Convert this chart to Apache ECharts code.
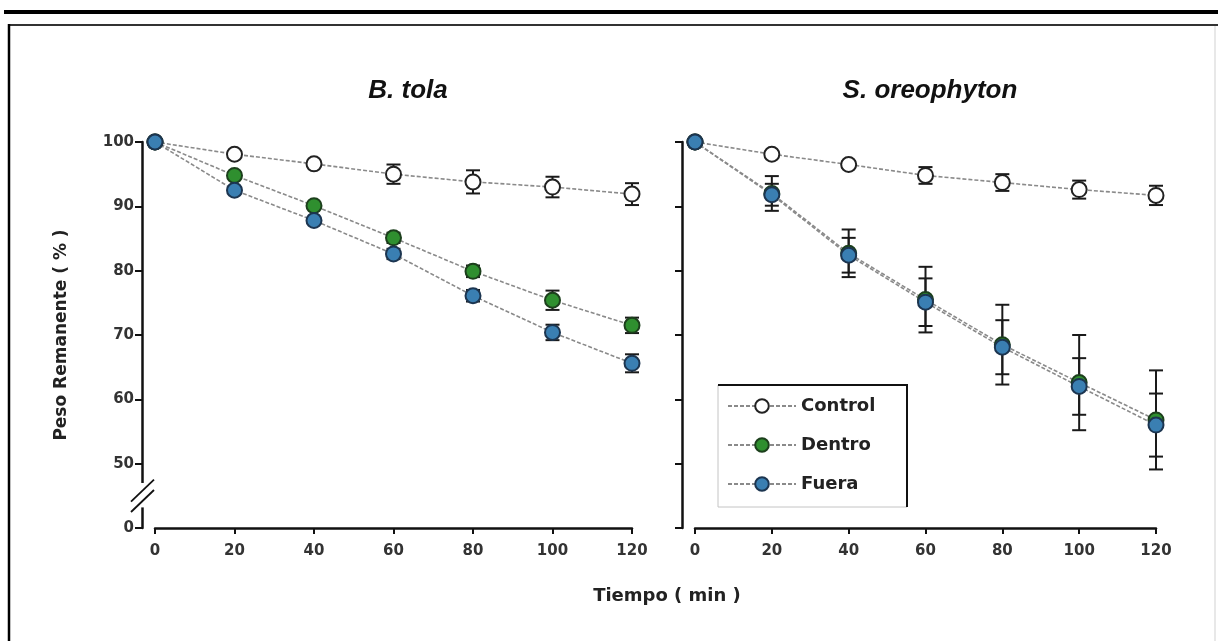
<!DOCTYPE html>
<html>
<head>
<meta charset="utf-8">
<script src="https://cdn.jsdelivr.net/npm/echarts@6/dist/echarts.min.js"></script>
<style>
html,body{margin:0;padding:0;background:#fff;}
#c{width:1218px;height:641px;}
</style>
</head>
<body>
<div id="c"></div>
<script>
// ---- data ----
const times = [0, 20, 40, 60, 80, 100, 120];
const yTicks = [40, 50, 60, 70, 80, 90, 100];
const yTickLabels = ['0', '50', '60', '70', '80', '90', '100'];

// B. tola
const tolaControl = [100, 98.1, 96.6, 95.0, 93.8, 93.0, 91.9];
const tolaControlErr = [0, 0.4, 0.5, 1.5, 1.8, 1.6, 1.7];
const tolaDentro = [100, 94.8, 90.1, 85.1, 79.9, 75.4, 71.5];
const tolaDentroErr = [0, 0.4, 0.5, 0.8, 0.9, 1.5, 1.2];
const tolaFuera = [100, 92.5, 87.8, 82.6, 76.1, 70.4, 65.6];
const tolaFueraErr = [0, 0.4, 0.5, 0.8, 0.9, 1.2, 1.4];

// S. oreophyton
const oreoControl = [100, 98.1, 96.5, 94.8, 93.7, 92.6, 91.7];
const oreoControlErr = [0, 0.4, 0.5, 1.3, 1.3, 1.4, 1.5];
const oreoDentro = [100, 92.0, 82.7, 75.5, 68.5, 62.6, 56.8];
const oreoDentroErr = [0, 2.7, 3.7, 5.1, 6.2, 7.4, 7.7];
const oreoFuera = [100, 91.8, 82.4, 75.1, 68.1, 62.0, 56.0];
const oreoFueraErr = [0, 1.7, 2.7, 3.7, 4.2, 4.4, 4.9];

const seriesNames = ['Control', 'Dentro', 'Fuera'];
const titles = ['B. tola', 'S. oreophyton'];
const xAxisTitle = 'Tiempo ( min )';
const yAxisTitle = 'Peso Remanente ( % )';

// ---- styles ----
const FONT = 'Liberation Sans, Arial, sans-serif';
const FONT_W = 'DejaVu Sans, Liberation Sans, sans-serif';
const styles = {
  Control: { color: '#ffffff', borderColor: '#222222' },
  Dentro: { color: '#2f8f2f', borderColor: '#1c3f1c' },
  Fuera: { color: '#3a7fb2', borderColor: '#1c3550' }
};

function pairs(vals) { return times.map((t, i) => [t, vals[i]]); }
function errPairs(vals, errs) { return times.map((t, i) => [t, vals[i] - errs[i], vals[i] + errs[i]]); }

function lineSeries(name, vals, idx) {
  return {
    type: 'line', name: name, xAxisIndex: idx, yAxisIndex: idx,
    data: pairs(vals), symbol: 'circle', symbolSize: 15,
    lineStyle: { color: '#8a8a8a', width: 1.6, type: [4, 2] },
    itemStyle: { color: styles[name].color, borderColor: styles[name].borderColor, borderWidth: 2 },
    z: 3, animation: false
  };
}
function errSeries(vals, errs, idx) {
  return {
    type: 'custom', xAxisIndex: idx, yAxisIndex: idx, z: 2, animation: false, silent: true,
    data: errPairs(vals, errs),
    renderItem: function (params, api) {
      const x = api.value(0);
      const lo = api.coord([x, api.value(1)]);
      const hi = api.coord([x, api.value(2)]);
      const w = 7;
      const st = { stroke: '#1a1a1a', lineWidth: 2 };
      return {
        type: 'group', children: [
          { type: 'line', shape: { x1: lo[0], y1: lo[1], x2: hi[0], y2: hi[1] }, style: st },
          { type: 'line', shape: { x1: lo[0] - w, y1: lo[1], x2: lo[0] + w, y2: lo[1] }, style: st },
          { type: 'line', shape: { x1: hi[0] - w, y1: hi[1], x2: hi[0] + w, y2: hi[1] }, style: st }
        ]
      };
    }
  };
}

const axisLabelStyle = { fontFamily: FONT_W, fontWeight: 'bold', fontSize: 15, color: '#333' };

function xAxis(idx) {
  return {
    type: 'value', gridIndex: idx, min: 0, max: 120, interval: 20,
    axisLine: { show: true, onZero: false, lineStyle: { color: '#111', width: 2.5 } },
    axisTick: { show: true, length: 6, lineStyle: { color: '#111', width: 2 } },
    axisLabel: Object.assign({ margin: 16 }, axisLabelStyle),
    splitLine: { show: false }
  };
}
function yAxis(idx) {
  return {
    type: 'value', gridIndex: idx, min: 40, max: 100, interval: 10, offset: 13,
    axisLine: { show: true, onZero: false, lineStyle: { color: '#111', width: 2.5 } },
    axisTick: { show: true, length: 7, lineStyle: { color: '#111', width: 2 } },
    axisLabel: Object.assign({
      show: idx === 0, margin: 8,
      formatter: function (v) { const k = yTicks.indexOf(v); return k >= 0 ? yTickLabels[k] : ''; }
    }, axisLabelStyle),
    splitLine: { show: false },
    name: idx === 0 ? yAxisTitle : '',
    nameLocation: 'middle', nameGap: 72, nameRotate: 90,
    nameTextStyle: { fontFamily: FONT_W, fontWeight: 'bold', fontSize: 17, color: '#222' }
  };
}

const chart = echarts.init(document.getElementById('c'), null, { renderer: 'canvas' });

const series = [
  lineSeries('Control', tolaControl, 0), lineSeries('Dentro', tolaDentro, 0), lineSeries('Fuera', tolaFuera, 0),
  errSeries(tolaControl, tolaControlErr, 0), errSeries(tolaDentro, tolaDentroErr, 0), errSeries(tolaFuera, tolaFueraErr, 0),
  lineSeries('Control', oreoControl, 1), lineSeries('Dentro', oreoDentro, 1), lineSeries('Fuera', oreoFuera, 1),
  errSeries(oreoControl, oreoControlErr, 1), errSeries(oreoDentro, oreoDentroErr, 1), errSeries(oreoFuera, oreoFueraErr, 1)
];

const LEG = { left: 718, top: 385, width: 189, height: 122 };

chart.setOption({
  backgroundColor: '#ffffff',
  animation: false,
  title: [
    { text: titles[0], left: 403, top: 73, textAlign: 'center',
      textStyle: { fontFamily: FONT, fontStyle: 'italic', fontWeight: 'bold', fontSize: 26, color: '#111' } },
    { text: titles[1], left: 925, top: 73, textAlign: 'center',
      textStyle: { fontFamily: FONT, fontStyle: 'italic', fontWeight: 'bold', fontSize: 26, color: '#111' } },
    { text: xAxisTitle, left: 662, top: 582, textAlign: 'center',
      textStyle: { fontFamily: FONT_W, fontWeight: 'bold', fontSize: 18, color: '#222' } }
  ],
  grid: [
    { left: 155, top: 142, width: 477, height: 386 },
    { left: 695, top: 142, width: 461, height: 386 }
  ],
  xAxis: [xAxis(0), xAxis(1)],
  yAxis: [yAxis(0), yAxis(1)],
  legend: {
    data: seriesNames, orient: 'vertical', left: LEG.left, top: LEG.top, z: 10,
    itemWidth: 68, itemHeight: 17, itemGap: 21,
    padding: [12, 20, 14, 9],
    textStyle: { fontFamily: FONT_W, fontWeight: 'bold', fontSize: 18, lineHeight: 17, color: '#222' },
    selectedMode: false
  },
  series: series
});

// decorations: frame, legend box and y-axis break (break positioned through the library's scale)
const yA = chart.convertToPixel({ yAxisIndex: 0 }, 47);
const yB = chart.convertToPixel({ yAxisIndex: 0 }, 43.2);
const yS1 = chart.convertToPixel({ yAxisIndex: 0 }, 45.8);
const yS2 = chart.convertToPixel({ yAxisIndex: 0 }, 44.2);
const ax = chart.convertToPixel({ xAxisIndex: 0 }, 0) - 13;

chart.setOption({
  graphic: [
    { type: 'rect', shape: { x: 4, y: 10, width: 1214, height: 4 }, style: { fill: '#000' } },
    { type: 'line', shape: { x1: 9, y1: 25, x2: 1218, y2: 25 }, style: { stroke: '#333', lineWidth: 2 } },
    { type: 'line', shape: { x1: 9, y1: 24, x2: 9, y2: 641 }, style: { stroke: '#000', lineWidth: 2.5 } },
    { type: 'line', shape: { x1: 1215, y1: 26, x2: 1215, y2: 641 }, style: { stroke: '#e0e0e0', lineWidth: 1.5 } },
    { type: 'rect', z: 5, shape: { x: LEG.left, y: LEG.top, width: LEG.width, height: LEG.height },
      style: { fill: '#fff', stroke: '#c4c4c4', lineWidth: 1 } },
    { type: 'polyline', z: 6, shape: { points: [[LEG.left, LEG.top], [LEG.left + LEG.width, LEG.top], [LEG.left + LEG.width, LEG.top + LEG.height]] },
      style: { fill: null, stroke: '#111', lineWidth: 2 } },
    { type: 'rect', z: 100, shape: { x: ax - 4, y: yA, width: 8, height: yB - yA }, style: { fill: '#fff' } },
    { type: 'line', z: 101, shape: { x1: ax - 11, y1: yS1 + 11, x2: ax + 12, y2: yS1 - 11 }, style: { stroke: '#111', lineWidth: 1.8 } },
    { type: 'line', z: 101, shape: { x1: ax - 11, y1: yS2 + 11, x2: ax + 12, y2: yS2 - 11 }, style: { stroke: '#111', lineWidth: 1.8 } }
  ]
});
</script>
</body>
</html>
